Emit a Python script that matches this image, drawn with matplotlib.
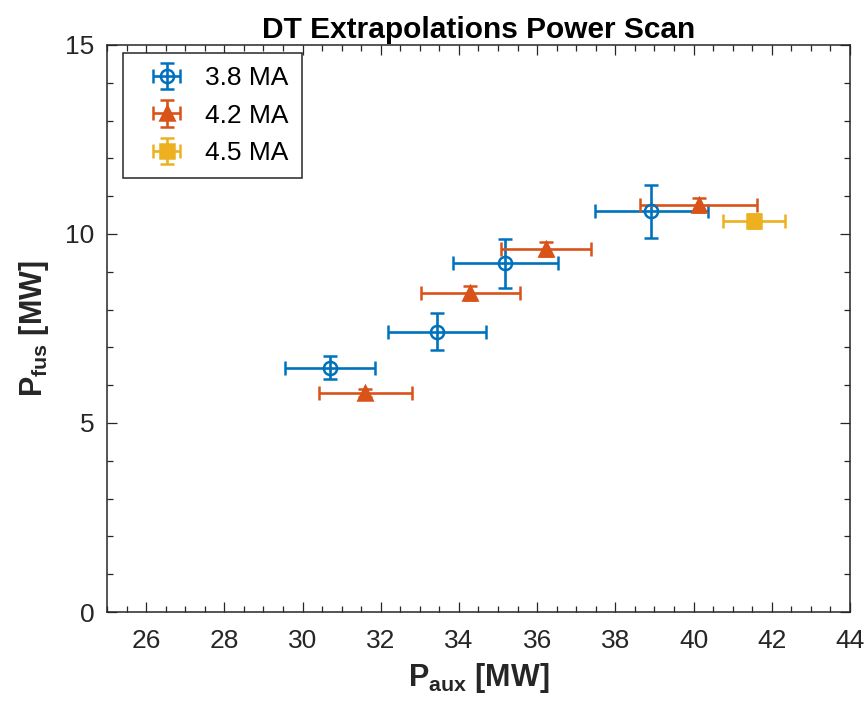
import matplotlib
matplotlib.use('agg')
import matplotlib.pyplot as plt
from matplotlib.ticker import MultipleLocator

plt.rcParams['font.family'] = ['Liberation Sans', 'DejaVu Sans']
plt.rcParams['mathtext.fontset'] = 'custom'
plt.rcParams['mathtext.bf'] = 'Liberation Sans:bold'
plt.rcParams['mathtext.rm'] = 'Liberation Sans'

# Data
labels = ['3.8 MA', '4.2 MA', '4.5 MA']

paux_38 = [30.71, 33.44, 35.19, 38.92]
pfus_38 = [6.46, 7.42, 9.22, 10.60]
xerr_38 = [1.15, 1.26, 1.34, 1.45]
yerr_38 = [0.30, 0.50, 0.66, 0.70]

paux_42 = [31.61, 34.29, 36.23, 40.13]
pfus_42 = [5.80, 8.44, 9.60, 10.77]
xerr_42 = [1.20, 1.26, 1.15, 1.50]
yerr_42 = [0.10, 0.18, 0.18, 0.18]

paux_45 = [41.54]
pfus_45 = [10.34]
xerr_45 = [0.80]
yerr_45 = [0.18]

colors = ['#0072BD', '#D95319', '#EDB120']
axcol = '#262626'

fig = plt.figure(figsize=(8.67, 7.05), dpi=100)
ax = fig.add_axes([0.1234, 0.1319, 0.857, 0.8043])

common = dict(linestyle='none', elinewidth=1.9, capsize=4.7, capthick=1.9, markersize=9.5, markeredgewidth=1.8)
ax.errorbar(paux_38, pfus_38, xerr=xerr_38, yerr=yerr_38, marker='o', color=colors[0],
            markerfacecolor='none', label=labels[0], **common)
ax.errorbar(paux_42, pfus_42, xerr=xerr_42, yerr=yerr_42, marker='^', color=colors[1],
            markerfacecolor=colors[1], label=labels[1], **common)
ax.errorbar(paux_45, pfus_45, xerr=xerr_45, yerr=yerr_45, marker='s', color=colors[2],
            markerfacecolor=colors[2], label=labels[2], **common)

ax.set_xlim(25, 44)
ax.set_ylim(0, 15)
ax.xaxis.set_minor_locator(MultipleLocator(0.5))
ax.yaxis.set_major_locator(MultipleLocator(5))
ax.yaxis.set_minor_locator(MultipleLocator(1))
ax.set_xticks(range(26, 45, 2))

ax.tick_params(which='both', direction='in', top=True, right=True, colors=axcol, labelsize=19, width=0.9)
ax.tick_params(which='major', length=7)
ax.tick_params(which='minor', length=4)
ax.tick_params(axis='x', which='major', pad=12)
ax.tick_params(axis='y', which='major', pad=9)
for s in ax.spines.values():
    s.set_color(axcol)
    s.set_linewidth(1.1)

ax.set_title('DT Extrapolations Power Scan', fontsize=21.5, fontweight='bold', pad=5)
ax.set_xlabel(r'P$_{\mathbf{aux}}$ [MW]', fontsize=22, fontweight='bold', color=axcol, labelpad=6)
ax.set_ylabel(r'P$_{\mathbf{fus}}$ [MW]', fontsize=22, fontweight='bold', color=axcol, labelpad=10)

leg = ax.legend(loc='upper left', bbox_to_anchor=(0.0215, 0.986), fontsize=19, fancybox=False,
                framealpha=1, edgecolor=axcol, borderaxespad=0, handlelength=2.3,
                labelspacing=0.51, borderpad=0.5, handletextpad=0.32)
leg.get_frame().set_linewidth(1.1)

fig.savefig('out.png', dpi=100)
